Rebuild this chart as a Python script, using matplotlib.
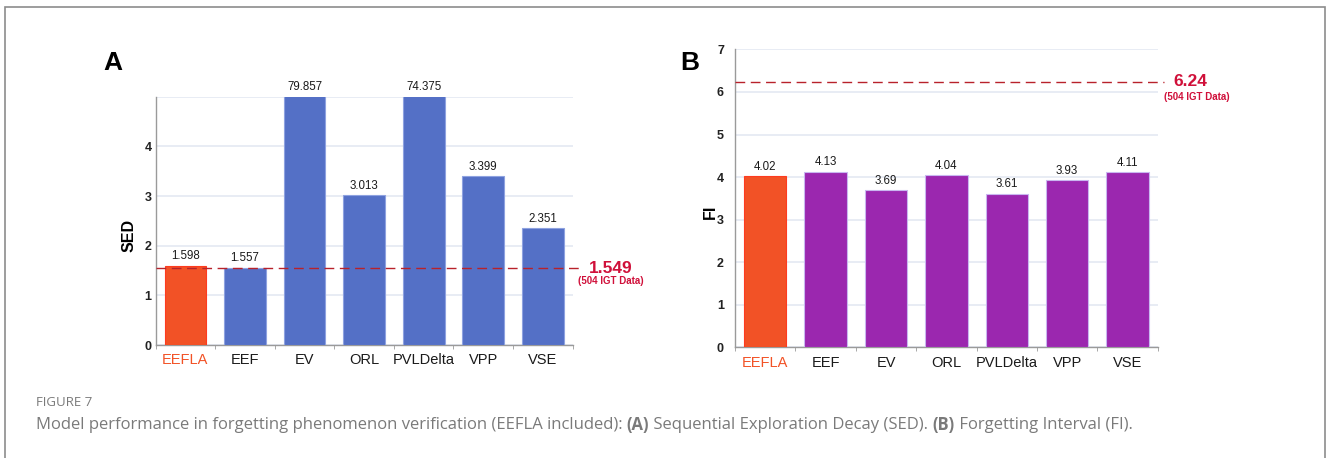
import numpy as np
import matplotlib
matplotlib.use('Agg')
import matplotlib.pyplot as plt
from matplotlib.patches import Rectangle

plt.rcParams['font.family'] = ['Liberation Sans', 'DejaVu Sans']

# 数据
models = ['EEFLA', 'EEF', 'EV', 'ORL', 'PVLDelta', 'VPP', 'VSE']
sed_values = [1.598, 1.557, 79.857, 3.013, 74.375, 3.399, 2.351]
fi_values = [4.02, 4.13, 3.69, 4.04, 3.61, 3.93, 4.11]
sed_ref = 1.549
fi_ref = 6.24
ref_note = '(504 IGT Data)'
caption_head = 'FIGURE 7'
caption_parts = [
    ('Model performance in forgetting phenomenon verification (EEFLA included): ', 'normal'),
    ('(A)', 'bold'),
    (' Sequential Exploration Decay (SED). ', 'normal'),
    ('(B)', 'bold'),
    (' Forgetting Interval (FI).', 'normal'),
]

orange = '#F25226'
blue = '#5470C6'
purple = '#9B27AF'
ref_red = '#D0103A'
grid_col = '#E4E9F2'
spine_col = '#9A9A9A'

fig = plt.figure(figsize=(13.28, 4.58), dpi=100)

# 外框
fig.patches.append(Rectangle((0.0035, -0.05), 0.9940, 1.035, transform=fig.transFigure,
                             fill=False, edgecolor='#8C8C8C', linewidth=1.2))


def draw_panel(ax, values, bar_color, ymax, ref, note_offset, ref_x, note_x, ylabel, tick_pad, fmt):
    x = np.arange(len(values))
    colors = [orange] + [bar_color] * (len(values) - 1)
    edges = ['#FF3B1F'] + ['#C9B7F0' if bar_color == purple else '#8EA2E0'] * (len(values) - 1)
    ax.bar(x, values, width=0.7, color=colors, edgecolor=edges, linewidth=0.8, zorder=3)
    ax.set_xlim(-0.5, len(values) - 0.5)
    ax.set_ylim(0, ymax)

    # 柱顶数值
    for xi, v in zip(x, values):
        ax.annotate(fmt.format(v), (xi, min(v, ymax)),
                    xytext=(0, 2.5), textcoords='offset points', ha='center', va='bottom',
                    fontsize=8.3, color='#1A1A1A', annotation_clip=False)

    # 网格
    ax.set_yticks(range(ymax + 1))
    ax.set_yticklabels([str(t) if t < 5 or ymax > 5 else '' for t in range(ymax + 1)],
                       fontsize=9, fontweight='bold', color='#222222')
    ax.yaxis.grid(True, color=grid_col, linewidth=1.2, zorder=0)
    ax.tick_params(axis='y', length=0, pad=tick_pad)

    ax.set_xticks(np.arange(-0.5, len(values)), minor=True)
    ax.set_xticks(x)
    ax.set_xticklabels(models, fontsize=10.5, color='#1A1A1A')
    ax.get_xticklabels()[0].set_color(orange)
    ax.tick_params(axis='x', which='major', length=0, pad=6)
    ax.tick_params(axis='x', which='minor', length=3, color=spine_col)

    for s in ['top', 'right']:
        ax.spines[s].set_visible(False)
    for s in ['left', 'bottom']:
        ax.spines[s].set_color(spine_col)
        ax.spines[s].set_linewidth(1.0)

    ax.set_ylabel(ylabel, fontsize=11.5, fontweight='bold')

    # 参考线
    ax.plot([-0.5, len(values) - 0.5 + 0.1], [ref, ref], color='#B8222B', linestyle=(0, (7, 4)),
            linewidth=1.0, clip_on=False, zorder=4)
    trans = ax.get_yaxis_transform()
    ax.text(ref_x, ref, f'{ref}', transform=trans, ha='center', va='center',
            fontsize=12.5, fontweight='bold', color=ref_red)
    ax.annotate(ref_note, (note_x, ref), xycoords=trans, xytext=(0, -note_offset),
                textcoords='offset points', ha='center', va='center',
                fontsize=7, fontweight='bold', color=ref_red, annotation_clip=False)


ax1 = fig.add_axes([0.1172, 0.2467, 0.3140, 0.5421])
draw_panel(ax1, sed_values, blue, 5, sed_ref, 9, 1.092, 1.092, 'SED', 3, '{:.3f}')
ax1.yaxis.set_label_coords(-0.046, 0.44)

ax2 = fig.add_axes([0.5535, 0.2413, 0.3183, 0.6510])
draw_panel(ax2, fi_values, purple, 7, fi_ref, 11, 1.078, 1.092, 'FI', 8, '{:.2f}')
ax2.yaxis.set_label_coords(-0.041, 0.455)

# 面板字母
fig.text(0.0851, 0.8624, 'A', fontsize=19, fontweight='bold', ha='center', va='center')
fig.text(0.5196, 0.8624, 'B', fontsize=19, fontweight='bold', ha='center', va='center')

# 图注
cap_font = ['Open Sans', 'DejaVu Sans']
fig.text(0.027, 0.122, caption_head, fontsize=9.5, color='#7A7A7A', family=cap_font,
         ha='left', va='center')
renderer = fig.canvas.get_renderer()
x_pos = 0.027
for txt, w in caption_parts:
    t = fig.text(x_pos, 0.072, txt, fontsize=12, color='#7A7A7A', family=cap_font,
                 fontweight=w, ha='left', va='center')
    bb = t.get_window_extent(renderer=renderer)
    x_pos += bb.width / fig.bbox.width

plt.savefig('out.png', dpi=100)
plt.close()
